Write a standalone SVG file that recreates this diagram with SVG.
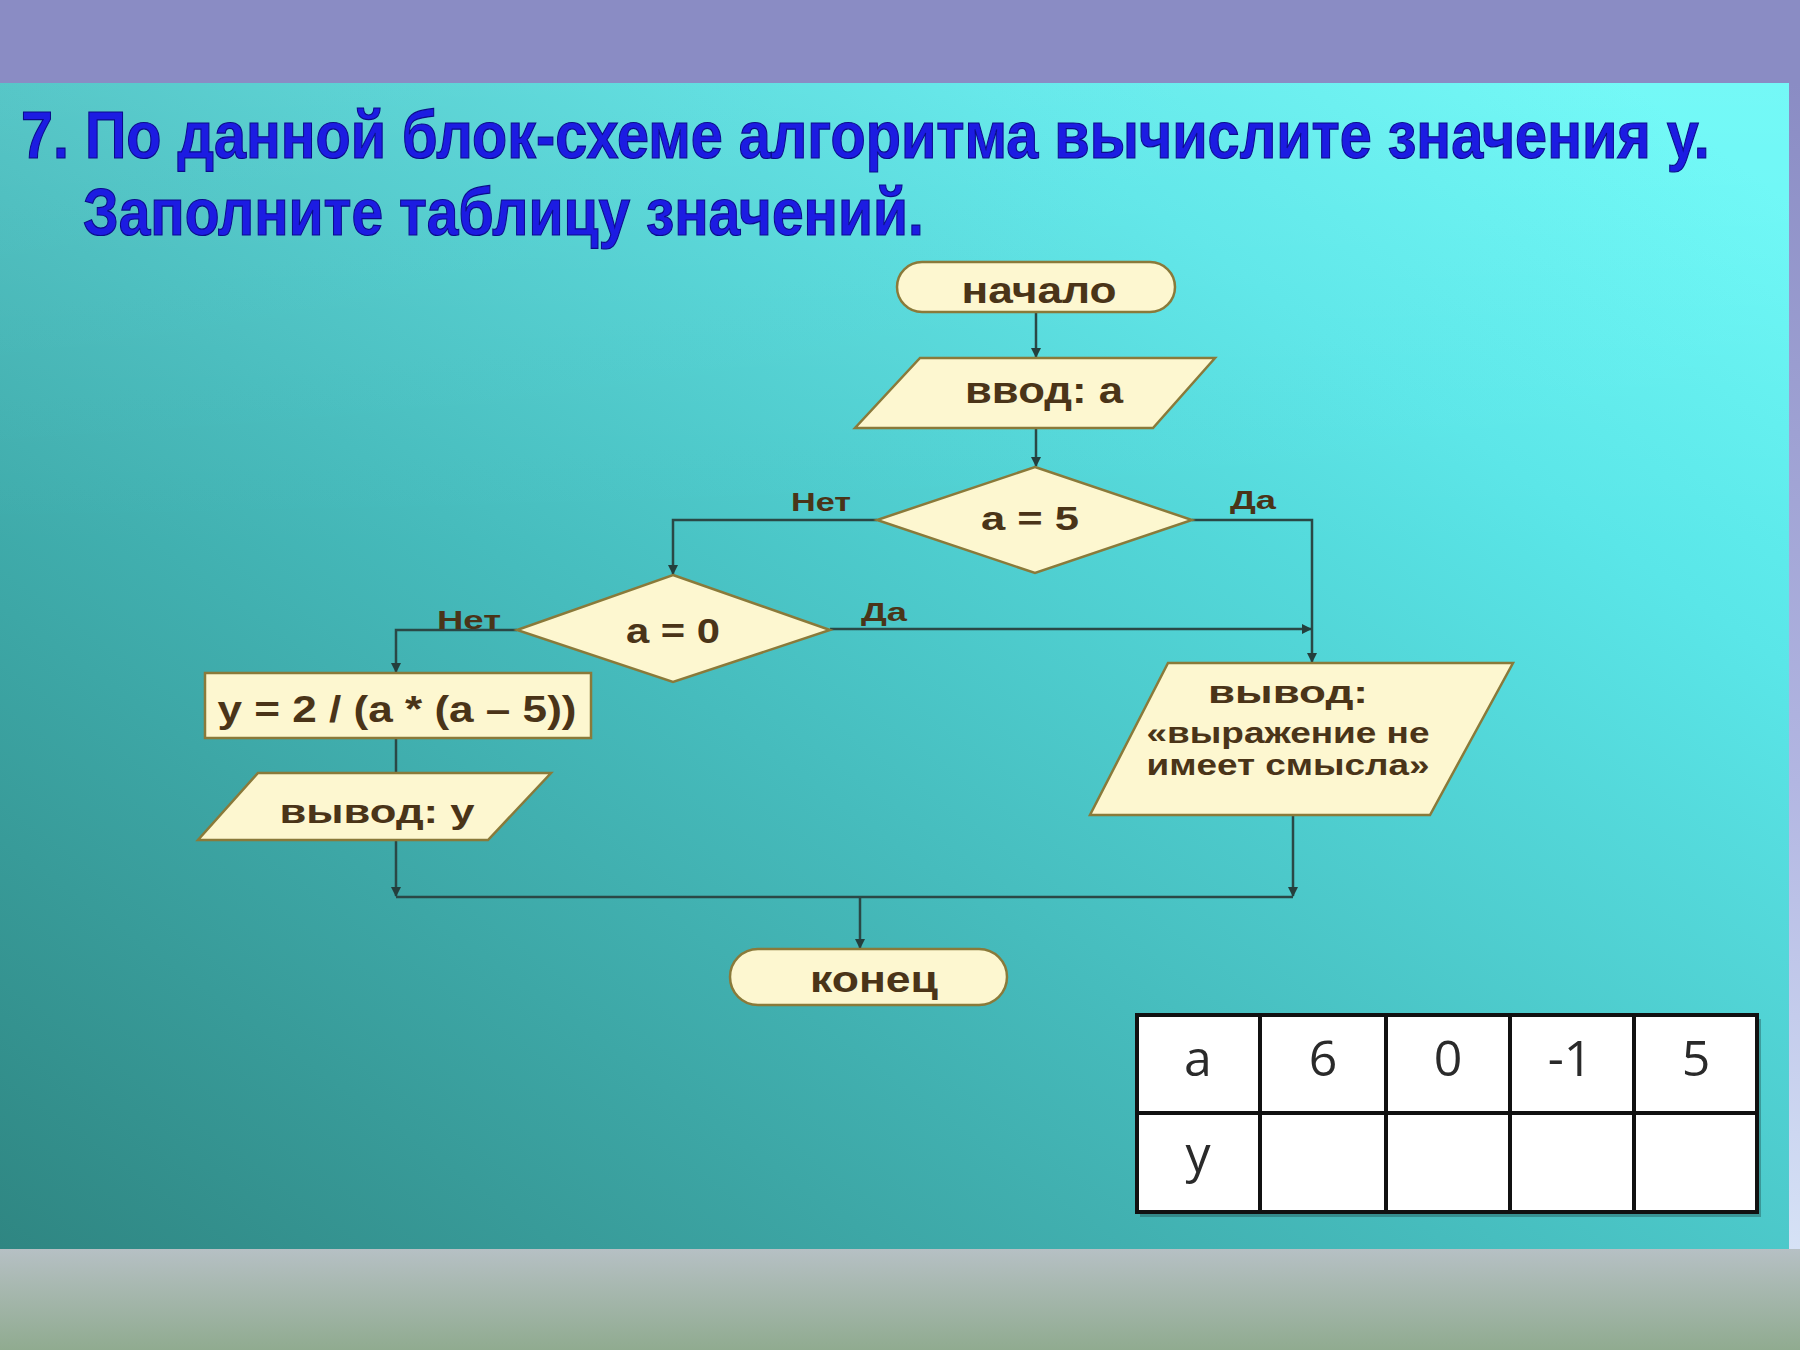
<svg xmlns="http://www.w3.org/2000/svg" width="1800" height="1350" viewBox="0 0 1800 1350">
  <defs>
    <linearGradient id="panel" x1="0" y1="1" x2="1" y2="0.1">
      <stop offset="0" stop-color="#2f8682"/>
      <stop offset="0.45" stop-color="#46bcbd"/>
      <stop offset="0.8" stop-color="#5ae6e8"/>
      <stop offset="1" stop-color="#68f8f6"/>
    </linearGradient>
    <linearGradient id="panelTop" x1="0" y1="0" x2="0" y2="1">
      <stop offset="0" stop-color="#ffffff" stop-opacity="0.08"/>
      <stop offset="0.4" stop-color="#ffffff" stop-opacity="0"/>
    </linearGradient>
    <linearGradient id="bottomBand" x1="0" y1="0" x2="0" y2="1">
      <stop offset="0" stop-color="#b6c0c4"/>
      <stop offset="1" stop-color="#90ab90"/>
    </linearGradient>
    <linearGradient id="rightStrip" x1="0" y1="0" x2="0" y2="1">
      <stop offset="0" stop-color="#8a8cc4"/>
      <stop offset="0.6" stop-color="#b2b6e2"/>
      <stop offset="1" stop-color="#d6e2f6"/>
    </linearGradient>
    <marker id="arr" viewBox="0 0 10 10" refX="9" refY="5" markerWidth="4" markerHeight="4" orient="auto" markerUnits="strokeWidth">
      <path d="M0,0 L10,5 L0,10 z" fill="#243f3d"/>
    </marker>
    <style>
      .node { fill: #fdf7d0; stroke: #8a7a3a; stroke-width: 2.5; }
      .lbl { font-family: "Liberation Sans", Arial, sans-serif; font-weight: bold; fill: #4a3418; text-anchor: middle; }
      .cond { font-family: "Liberation Sans", Arial, sans-serif; font-weight: bold; fill: #4a3418; text-anchor: middle; font-size: 25px; }
      .conn { fill: none; stroke: #2a4846; stroke-width: 2.5; }
      .title { font-family: "Liberation Sans", Arial, sans-serif; font-weight: bold; fill: #1c1ce2; stroke: #0b0b8a; stroke-width: 1.2; font-size: 67px; }
      .cell { fill: #ffffff; }
      .grid { fill: none; stroke: #111111; stroke-width: 4; }
      .tt { font-family: "Open Sans", "Noto Sans", sans-serif; font-size: 50px; fill: #2a2a2a; text-anchor: middle; }
    </style>
  </defs>

  <!-- background -->
  <rect x="0" y="0" width="1800" height="1350" fill="#8a8cc4"/>
  <rect x="1789" y="83" width="11" height="1167" fill="url(#rightStrip)"/>
  <rect x="0" y="1249" width="1800" height="101" fill="url(#bottomBand)"/>
  <rect x="0" y="83" width="1789" height="1166" fill="url(#panel)"/>
  <rect x="0" y="83" width="1789" height="1166" fill="url(#panelTop)"/>

  <!-- title -->
  <g id="title" transform="scale(0.8,1)">
    <text class="title" x="26.25" y="158" textLength="2111" lengthAdjust="spacingAndGlyphs">7. По данной блок-схеме алгоритма вычислите значения у.</text>
    <text class="title" x="103.75" y="235" textLength="1051" lengthAdjust="spacingAndGlyphs">Заполните таблицу значений.</text>
  </g>

  <!-- connectors -->
  <g id="connectors">
    <path class="conn" d="M1036,312 L1036,357" marker-end="url(#arr)"/>
    <path class="conn" d="M1036,428 L1036,466" marker-end="url(#arr)"/>
    <path class="conn" d="M877,520 L673,520 L673,574" marker-end="url(#arr)"/>
    <path class="conn" d="M1192,520 L1312,520 L1312,662" marker-end="url(#arr)"/>
    <path class="conn" d="M830,629 L1311,629" marker-end="url(#arr)"/>
    <path class="conn" d="M517,630 L396,630 L396,672" marker-end="url(#arr)"/>
    <path class="conn" d="M396,738 L396,773"/>
    <path class="conn" d="M396,840 L396,896" marker-end="url(#arr)"/>
    <path class="conn" d="M1293,815 L1293,896" marker-end="url(#arr)"/>
    <path class="conn" d="M396,897 L1293,897"/>
    <path class="conn" d="M860,897 L860,948" marker-end="url(#arr)"/>
    <text class="cond" x="821" y="511" textLength="60" lengthAdjust="spacingAndGlyphs">Нет</text>
    <text class="cond" x="1253" y="509" textLength="46" lengthAdjust="spacingAndGlyphs">Да</text>
    <text class="cond" x="469" y="629" textLength="64" lengthAdjust="spacingAndGlyphs">Нет</text>
    <text class="cond" x="884" y="621" textLength="46" lengthAdjust="spacingAndGlyphs">Да</text>
  </g>

  <!-- nodes -->
  <g id="start">
    <rect class="node" x="897" y="262" width="278" height="50" rx="25" ry="25"/>
    <text class="lbl" x="1039" y="303" font-size="37" textLength="155" lengthAdjust="spacingAndGlyphs">начало</text>
  </g>
  <g id="input">
    <polygon class="node" points="920,358 1215,358 1153,428 855,428"/>
    <text class="lbl" x="1044" y="403" font-size="37" textLength="158" lengthAdjust="spacingAndGlyphs">ввод: a</text>
  </g>
  <g id="cond5">
    <polygon class="node" points="1035,467 1192,520 1035,573 877,520"/>
    <text class="lbl" x="1030" y="530" font-size="33" textLength="98" lengthAdjust="spacingAndGlyphs">a = 5</text>
  </g>
  <g id="cond0">
    <polygon class="node" points="673,575 830,630 673,682 517,630"/>
    <text class="lbl" x="673" y="643" font-size="35" textLength="94" lengthAdjust="spacingAndGlyphs">a = 0</text>
  </g>
  <g id="calc">
    <rect class="node" x="205" y="673" width="386" height="65"/>
    <text class="lbl" x="397" y="722" font-size="36" textLength="359" lengthAdjust="spacingAndGlyphs">y = 2 / (a * (a – 5))</text>
  </g>
  <g id="outY">
    <polygon class="node" points="258,773 551,773 488,840 198,840"/>
    <text class="lbl" x="377" y="823" font-size="34" textLength="195" lengthAdjust="spacingAndGlyphs">вывод: у</text>
  </g>
  <g id="outMsg">
    <polygon class="node" points="1168,663 1513,663 1430,815 1090,815"/>
    <text class="lbl" x="1288" y="703" font-size="31" textLength="160" lengthAdjust="spacingAndGlyphs">вывод:</text>
    <text class="lbl" x="1288" y="743" font-size="30" textLength="283" lengthAdjust="spacingAndGlyphs">«выражение не</text>
    <text class="lbl" x="1288" y="775" font-size="30" textLength="283" lengthAdjust="spacingAndGlyphs">имеет смысла»</text>
  </g>
  <g id="end">
    <rect class="node" x="730" y="949" width="277" height="56" rx="28" ry="28"/>
    <text class="lbl" x="874" y="992" font-size="37" textLength="128" lengthAdjust="spacingAndGlyphs">конец</text>
  </g>

  <!-- table -->
  <g id="table">
    <rect x="1140" y="1019" width="621" height="198" fill="#1a3a38" opacity="0.35"/>
    <rect class="cell" x="1137" y="1015" width="620" height="197"/>
    <rect class="grid" x="1137" y="1015" width="620" height="197"/>
    <path class="grid" d="M1137,1113 L1757,1113 M1260,1015 L1260,1212 M1386,1015 L1386,1212 M1510,1015 L1510,1212 M1634,1015 L1634,1212"/>
    <text class="tt" x="1198" y="1076">a</text>
    <text class="tt" x="1323" y="1076">6</text>
    <text class="tt" x="1448" y="1076">0</text>
    <text class="tt" x="1570" y="1076">-1</text>
    <text class="tt" x="1696" y="1076">5</text>
    <text class="tt" x="1198" y="1172">y</text>
  </g>
</svg>
